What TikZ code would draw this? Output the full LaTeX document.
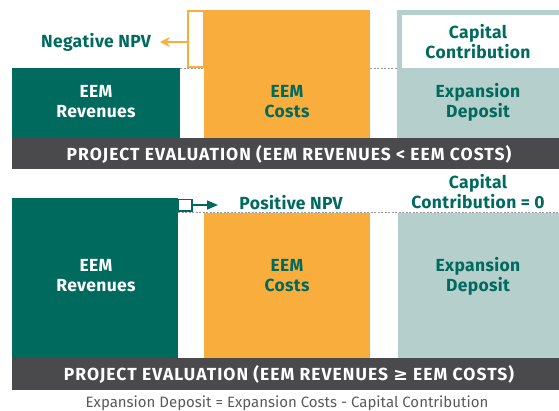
\documentclass[tikz,border=0pt]{standalone}
\usepackage{fontspec}
\setmainfont{Fira Sans}
\newfontfamily\symfont{DejaVu Sans}
\usetikzlibrary{arrows.meta}
\definecolor{eemgreen}{HTML}{006A5E}
\definecolor{eemorange}{HTML}{F9AD3C}
\definecolor{eemteal}{HTML}{B4CFCC}
\definecolor{eembar}{HTML}{4A4A4C}
\definecolor{eemgray}{HTML}{5A5A5A}
\tikzset{
  lbl/.style={font=\fontsize{17.5}{20}\selectfont\bfseries\addfontfeatures{LetterSpace=2}, align=center, inner sep=0pt},
  whitelbl/.style={lbl, text=white},
  greenlbl/.style={lbl, text=eemgreen},
  bartext/.style={font=\fontsize{17.5}{20}\selectfont\bfseries\addfontfeatures{LetterSpace=6}, text=white, inner sep=0pt},
  dashline/.style={draw=gray!80, dashed, dash pattern=on 2pt off 1.5pt, line width=0.9pt},
}
\begin{document}
\begin{tikzpicture}[x=1pt, y=-1pt]
\useasboundingbox (0,0) rectangle (559,410);
% ---------------- top ----------------
\fill[eemgreen] (12,68) rectangle (180,138);
\node[whitelbl] (rev1) at (96,102) {EEM\\Revenues};
\fill[eemorange] (204,10) rectangle (370,138);
\node[greenlbl] (cost1) at (287,102) {EEM\\Costs};
\draw[eemorange, line width=2pt, fill=white] (188,11) rectangle (204,67);
\coordinate (npvL) at (188,42);
\coordinate (npvTip) at (160,42);
\draw[eemorange, line width=2pt, -{Stealth[length=10pt, width=10pt, inset=3.5pt]}] (npvL) -- (npvTip);
\node[greenlbl, anchor=east] (negnpv) at (151,42) {Negative NPV};
\fill[eemteal] (397,10) rectangle (559,138);
\fill[white] (402,15) rectangle (559,68);
\node[greenlbl] (cap1) at (478,42) {Capital\\Contribution};
\node[greenlbl] (dep1) at (478,102) {Expansion\\Deposit};
\draw[dashline] (180,68) -- (204,68);
\draw[dashline] (370,68.5) -- (397,68.5);
\fill[eembar] (12,138) rectangle (559,169);
\node[bartext] (bar1) at (289,154) {PROJECT EVALUATION (EEM REVENUES < EEM COSTS)};
% ---------------- bottom ----------------
\fill[eemgreen] (12,198) rectangle (178,358);
\node[whitelbl] (rev2) at (96,276) {EEM\\Revenues};
\draw[dashline] (178,212.5) -- (559,212.5);
\fill[eemorange] (204,213) rectangle (370,358);
\node[greenlbl] (cost2) at (287,276) {EEM\\Costs};
\fill[eemteal] (398,213) rectangle (559,358);
\node[greenlbl] (dep2) at (478,276) {Expansion\\Deposit};
\draw[eemgreen, line width=1.6pt, fill=white] (178,199.5) rectangle (192,211);
\coordinate (posL) at (192,205);
\coordinate (posTip) at (218,205);
\draw[eemgreen, line width=1.6pt, -{Triangle[length=11pt, width=9pt]}] (posL) -- (posTip);
\node[greenlbl] (posnpv) at (291,203) {Positive NPV};
\node[greenlbl] (cap2) at (478,192) {Capital\\Contribution = 0};
\fill[eembar] (12,358) rectangle (559,390);
\node[bartext] (bar2) at (289,374) {PROJECT EVALUATION (EEM REVENUES {\symfont\bfseries ≥} EEM COSTS)};
\node[font=\fontsize{15}{18}\selectfont, text=eemgray, inner sep=0pt] (caption) at (287,403) {Expansion Deposit = Expansion Costs - Capital Contribution};
\end{tikzpicture}
\end{document}
